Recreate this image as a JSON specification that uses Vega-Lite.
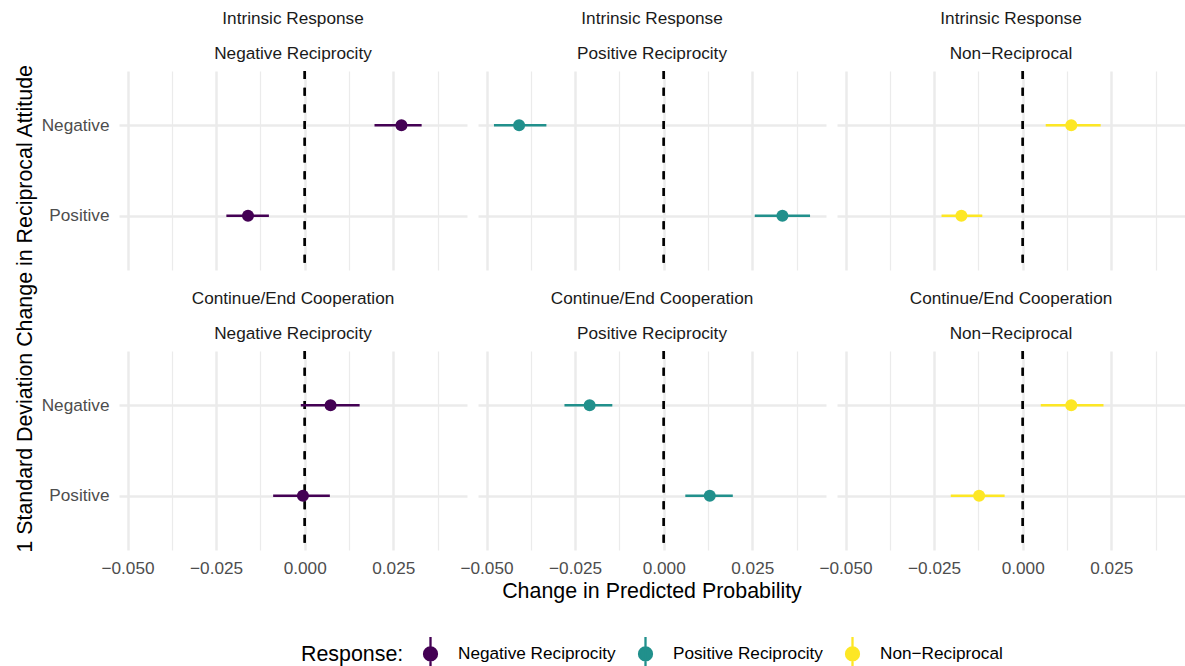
{
  "$schema": "https://vega.github.io/schema/vega-lite/v6.json",
  "background": "white",
  "padding": {"left": 14, "top": 9, "right": 0, "bottom": 0},
  "title": {"text": "1 Standard Deviation Change in Reciprocal Attitude", "orient": "left", "anchor": "middle", "frame": "bounds", "fontSize": 21.4, "fontWeight": "normal", "color": "#000000", "offset": 5, "dx": 34},
  "data": {"values": [
    {"panel": "Intrinsic Response|Negative Reciprocity", "response": "Negative Reciprocity", "attitude": "Negative", "est": 0.0273, "lo": 0.0197, "hi": 0.0330},
    {"panel": "Intrinsic Response|Negative Reciprocity", "response": "Negative Reciprocity", "attitude": "Positive", "est": -0.0160, "lo": -0.0221, "hi": -0.0101},
    {"panel": "Intrinsic Response|Positive Reciprocity", "response": "Positive Reciprocity", "attitude": "Negative", "est": -0.0408, "lo": -0.0479, "hi": -0.0331},
    {"panel": "Intrinsic Response|Positive Reciprocity", "response": "Positive Reciprocity", "attitude": "Positive", "est": 0.0335, "lo": 0.0257, "hi": 0.0413},
    {"panel": "Intrinsic Response|Non−Reciprocal", "response": "Non−Reciprocal", "attitude": "Negative", "est": 0.0137, "lo": 0.0065, "hi": 0.0220},
    {"panel": "Intrinsic Response|Non−Reciprocal", "response": "Non−Reciprocal", "attitude": "Positive", "est": -0.0173, "lo": -0.0229, "hi": -0.0114},
    {"panel": "Continue/End Cooperation|Negative Reciprocity", "response": "Negative Reciprocity", "attitude": "Negative", "est": 0.0073, "lo": -0.0011, "hi": 0.0155},
    {"panel": "Continue/End Cooperation|Negative Reciprocity", "response": "Negative Reciprocity", "attitude": "Positive", "est": -0.0005, "lo": -0.0089, "hi": 0.0071},
    {"panel": "Continue/End Cooperation|Positive Reciprocity", "response": "Positive Reciprocity", "attitude": "Negative", "est": -0.0209, "lo": -0.0280, "hi": -0.0145},
    {"panel": "Continue/End Cooperation|Positive Reciprocity", "response": "Positive Reciprocity", "attitude": "Positive", "est": 0.0130, "lo": 0.0061, "hi": 0.0195},
    {"panel": "Continue/End Cooperation|Non−Reciprocal", "response": "Non−Reciprocal", "attitude": "Negative", "est": 0.0137, "lo": 0.0051, "hi": 0.0228},
    {"panel": "Continue/End Cooperation|Non−Reciprocal", "response": "Non−Reciprocal", "attitude": "Positive", "est": -0.0123, "lo": -0.0203, "hi": -0.0051}
  ]},
  "facet": {
    "field": "panel", "type": "nominal", "title": "Change in Predicted Probability",
    "sort": ["Intrinsic Response|Negative Reciprocity", "Intrinsic Response|Positive Reciprocity", "Intrinsic Response|Non−Reciprocal", "Continue/End Cooperation|Negative Reciprocity", "Continue/End Cooperation|Positive Reciprocity", "Continue/End Cooperation|Non−Reciprocal"],
    "header": {
      "labelExpr": "split(datum.value, '|')",
      "labelFontSize": 17.2, "labelColor": "#1A1A1A", "labelLineHeight": 35, "labelPadding": -10, "labelBaseline": "bottom",
      "titleOrient": "bottom", "titleFontSize": 21.4, "titleColor": "#000000", "titleFontWeight": "normal", "titlePadding": 4
    }
  },
  "columns": 3,
  "spacing": {"row": 17, "column": 11},
  "spec": {
    "width": 348,
    "height": 199,
    "layer": [
      {
        "mark": {"type": "rule", "color": "#000000", "strokeWidth": 2.3, "strokeDash": [8, 8.7]},
        "encoding": {
          "x": {"datum": 0, "type": "quantitative",
            "scale": {"domain": [-0.0524, 0.0458], "nice": false, "zero": false},
            "axis": {"title": null, "values": [-0.05, -0.0375, -0.025, -0.0125, 0, 0.0125, 0.025, 0.0375], "format": ".3f", "labelExpr": "abs(round(datum.value*80)) % 2 == 1 ? '' : datum.label", "domain": false, "ticks": false, "grid": true, "gridColor": "#EBEBEB", "gridWidth": {"condition": {"test": "abs(round(datum.value*80)) % 2 == 1", "value": 1.25}, "value": 2.5}, "labelFontSize": 17.2, "labelColor": "#4D4D4D", "labelPadding": 7}}
        }
      },
      {
        "mark": {"type": "rule", "strokeWidth": 2.3},
        "encoding": {
          "x": {"field": "lo", "type": "quantitative",
            "scale": {"domain": [-0.0524, 0.0458], "nice": false, "zero": false},
            "axis": {"title": null, "values": [-0.05, -0.0375, -0.025, -0.0125, 0, 0.0125, 0.025, 0.0375], "format": ".3f", "labelExpr": "abs(round(datum.value*80)) % 2 == 1 ? '' : datum.label", "domain": false, "ticks": false, "grid": true, "gridColor": "#EBEBEB", "gridWidth": {"condition": {"test": "abs(round(datum.value*80)) % 2 == 1", "value": 1.25}, "value": 2.5}, "labelFontSize": 17.2, "labelColor": "#4D4D4D", "labelPadding": 7}},
          "x2": {"field": "hi"},
          "y": {"field": "attitude", "type": "nominal",
            "scale": {"type": "point", "padding": 0.6, "domain": ["Negative", "Positive"]},
            "axis": {"title": null, "domain": false, "ticks": false, "grid": true, "gridColor": "#EBEBEB", "gridWidth": 2.5, "labelFontSize": 17.2, "labelColor": "#4D4D4D", "labelPadding": 10}},
          "color": {"field": "response", "type": "nominal",
            "scale": {"domain": ["Negative Reciprocity", "Positive Reciprocity", "Non−Reciprocal"], "range": ["#440154", "#21908C", "#FDE725"]},
            "legend": {"title": "Response:", "orient": "none", "legendX": 182, "legendY": 564, "direction": "horizontal", "titleOrient": "left", "titleFontSize": 21.4, "titleFontWeight": "normal", "titleColor": "#000000", "titleBaseline": "middle", "labelFontSize": 17.2, "labelColor": "#000000", "symbolType": "M0,-1L0,1M-0.38,0A0.38,0.38,0,1,1,0.38,0A0.38,0.38,0,1,1,-0.38,0Z", "symbolSize": 1156, "symbolStrokeWidth": 2.3, "symbolOpacity": 1, "labelOffset": 9, "columnPadding": 11, "titlePadding": 8,
              "encode": {"symbols": {"update": {"fill": {"scale": "color", "field": "value"}, "stroke": {"scale": "color", "field": "value"}}}}}}
        }
      },
      {
        "mark": {"type": "point", "filled": true, "size": 145, "opacity": 1},
        "encoding": {
          "x": {"field": "est", "type": "quantitative",
            "scale": {"domain": [-0.0524, 0.0458], "nice": false, "zero": false},
            "axis": {"title": null, "values": [-0.05, -0.0375, -0.025, -0.0125, 0, 0.0125, 0.025, 0.0375], "format": ".3f", "labelExpr": "abs(round(datum.value*80)) % 2 == 1 ? '' : datum.label", "domain": false, "ticks": false, "grid": true, "gridColor": "#EBEBEB", "gridWidth": {"condition": {"test": "abs(round(datum.value*80)) % 2 == 1", "value": 1.25}, "value": 2.5}, "labelFontSize": 17.2, "labelColor": "#4D4D4D", "labelPadding": 7}},
          "y": {"field": "attitude", "type": "nominal",
            "scale": {"type": "point", "padding": 0.6, "domain": ["Negative", "Positive"]},
            "axis": {"title": null, "domain": false, "ticks": false, "grid": true, "gridColor": "#EBEBEB", "gridWidth": 2.5, "labelFontSize": 17.2, "labelColor": "#4D4D4D", "labelPadding": 10}},
          "color": {"field": "response", "type": "nominal",
            "scale": {"domain": ["Negative Reciprocity", "Positive Reciprocity", "Non−Reciprocal"], "range": ["#440154", "#21908C", "#FDE725"]},
            "legend": {"title": "Response:", "orient": "none", "legendX": 182, "legendY": 564, "direction": "horizontal", "titleOrient": "left", "titleFontSize": 21.4, "titleFontWeight": "normal", "titleColor": "#000000", "titleBaseline": "middle", "labelFontSize": 17.2, "labelColor": "#000000", "symbolType": "M0,-1L0,1M-0.38,0A0.38,0.38,0,1,1,0.38,0A0.38,0.38,0,1,1,-0.38,0Z", "symbolSize": 1156, "symbolStrokeWidth": 2.3, "symbolOpacity": 1, "labelOffset": 9, "columnPadding": 11, "titlePadding": 8,
              "encode": {"symbols": {"update": {"fill": {"scale": "color", "field": "value"}, "stroke": {"scale": "color", "field": "value"}}}}}}
        }
      }
    ]
  },
  "config": {
    "font": "Liberation Sans",
    "view": {"stroke": null}
  }
}
